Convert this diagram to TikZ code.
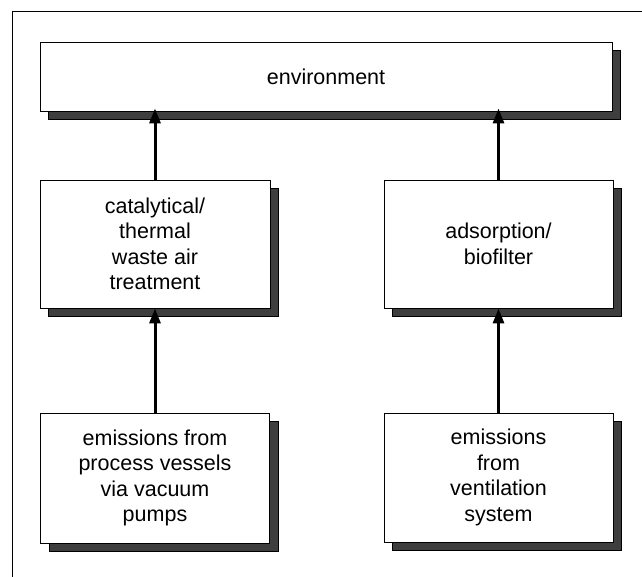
\documentclass[tikz,border=0pt]{standalone}
\usepackage{fontspec}
\setmainfont{Liberation Sans}
\usetikzlibrary{arrows.meta,shadows}
\definecolor{shadowc}{HTML}{3E3E3E}
\begin{document}
\begin{tikzpicture}[x=1pt,y=-1pt,
  box/.style={draw=black, line width=0.9pt, fill=white, align=center, inner sep=0pt,
    font=\fontsize{21.5}{25.5}\selectfont,
    drop shadow={shadow xshift=8.5pt, shadow yshift=-8.5pt, fill=shadowc, draw=black, opacity=1, line width=0.8pt}},
  arr/.style={line width=3pt, -{Triangle[length=15pt,width=11pt]}}]
\useasboundingbox (0,0) rectangle (642,577);
\draw[line width=1pt] (12,580) -- (12,12) -- (645,12);
\node[box, minimum width=572pt, minimum height=69pt] (env) at (326,76.5) {environment};
\node[box, minimum width=230pt, minimum height=128pt] (cat) at (155,244) {catalytical/\\thermal\\waste air\\treatment};
\node[box, minimum width=229pt, minimum height=128pt] (ads) at (498.5,244) {adsorption/\\biofilter};
\node[box, minimum width=229pt, minimum height=130pt] (proc) at (155,478) {emissions from\\process vessels\\via vacuum\\pumps};
\node[box, minimum width=229pt, minimum height=129pt] (vent) at (498.5,477.5) {emissions\\from\\ventilation\\system};
\draw[arr] (proc.north) -- (cat.south);
\draw[arr] (vent.north) -- (ads.south);
\draw[arr] (cat.north) -- ([yshift=3pt]env.south -| cat.north);
\draw[arr] (ads.north) -- ([yshift=3pt]env.south -| ads.north);
\end{tikzpicture}
\end{document}
